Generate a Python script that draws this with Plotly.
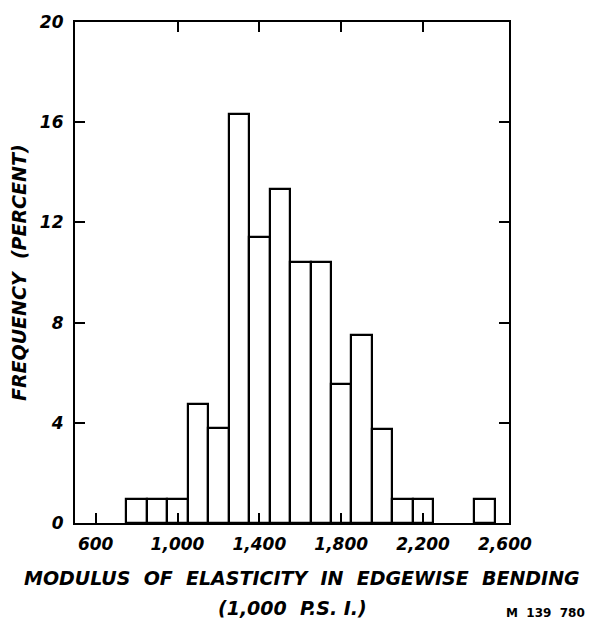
import plotly.graph_objects as go

# Class midpoints (1,000 p.s.i.) and frequency of each class (percent)
bin_centers = [800, 900, 1000, 1100, 1200, 1300, 1400, 1500, 1600, 1700,
               1800, 1900, 2000, 2100, 2200, 2500]
frequency = [0.94, 0.94, 0.94, 4.74, 3.81, 16.32, 11.41, 13.35, 10.42, 10.42,
             5.53, 7.51, 3.77, 0.94, 0.94, 0.94]
bin_width = 100

x_tick_vals = [600, 1000, 1400, 1800, 2200, 2600]
x_tick_text = ["600", "1,000", "1,400", "1,800", "2,200", "2,600"]
top_tick_vals = [1000, 1400, 1800, 2200]
bottom_tick_vals = [600, 1000, 1400, 1800, 2200]
y_tick_vals = [0, 4, 8, 12, 16, 20]

FONT = "DejaVu Sans"
ink = "black"

fig = go.Figure()
fig.add_trace(go.Bar(
    x=bin_centers, y=frequency, width=[bin_width] * len(bin_centers),
    marker=dict(color="white", line=dict(color=ink, width=2.2)),
    showlegend=False, hoverinfo="skip",
))

x_range = [499, 2620]
tick_font = dict(family=FONT, size=17, color=ink, style="italic", weight="bold")
fig.update_layout(
    width=592, height=624,
    margin=dict(l=75, r=83, t=18, b=101),
    paper_bgcolor="white", plot_bgcolor="white",
    bargap=0,
    xaxis=dict(
        range=x_range, tickvals=x_tick_vals, ticktext=x_tick_text,
        ticks="", showgrid=False, zeroline=False,
        showline=True, linecolor=ink, linewidth=2.2,
        tickfont=tick_font, ticklabelstandoff=4,
    ),
    xaxis2=dict(
        overlaying="x", side="top", range=x_range, tickvals=top_tick_vals,
        ticks="inside", ticklen=10, tickwidth=2, tickcolor=ink,
        showticklabels=False, showgrid=False, zeroline=False,
        showline=True, linecolor=ink, linewidth=2.2,
    ),
    xaxis3=dict(
        overlaying="x", side="bottom", range=x_range, tickvals=bottom_tick_vals,
        ticks="inside", ticklen=10, tickwidth=2, tickcolor=ink,
        showticklabels=False, showgrid=False, zeroline=False, showline=False,
    ),
    yaxis=dict(
        range=[0, 20], tickvals=y_tick_vals,
        ticks="inside", ticklen=10, tickwidth=2, tickcolor=ink,
        showgrid=False, zeroline=False,
        showline=True, linecolor=ink, linewidth=2.2, mirror="ticks",
        tickfont=tick_font, ticklabelstandoff=6,
    ),
)

# invisible traces so the top and bottom tick axes are drawn
fig.add_trace(go.Scatter(x=[x_range[0]], y=[0], xaxis="x2", mode="markers",
                         marker=dict(opacity=0), showlegend=False, hoverinfo="skip"))
fig.add_trace(go.Scatter(x=[x_range[0]], y=[0], xaxis="x3", mode="markers",
                         marker=dict(opacity=0), showlegend=False, hoverinfo="skip"))

title_font = dict(family=FONT, size=19, color=ink, style="italic", weight="bold")
fig.add_annotation(
    text="FREQUENCY  (PERCENT)", textangle=-90,
    xref="paper", yref="paper", x=-0.13, y=0.5,
    xanchor="center", yanchor="middle", showarrow=False, font=title_font,
)
fig.add_annotation(
    text="MODULUS  OF  ELASTICITY  IN  EDGEWISE  BENDING",
    xref="paper", yref="paper", x=0.522, y=-0.11,
    xanchor="center", yanchor="middle", showarrow=False, font=title_font,
)
fig.add_annotation(
    text="(1,000  P.S. I.)",
    xref="paper", yref="paper", x=0.5, y=-0.17,
    xanchor="center", yanchor="middle", showarrow=False, font=title_font,
)
fig.add_annotation(
    text="M  139  780",
    xref="paper", yref="paper", x=1.18, y=-0.18,
    xanchor="right", yanchor="middle", showarrow=False,
    font=dict(family=FONT, size=12, color=ink, weight="bold"),
)

fig.write_html("out.html")
